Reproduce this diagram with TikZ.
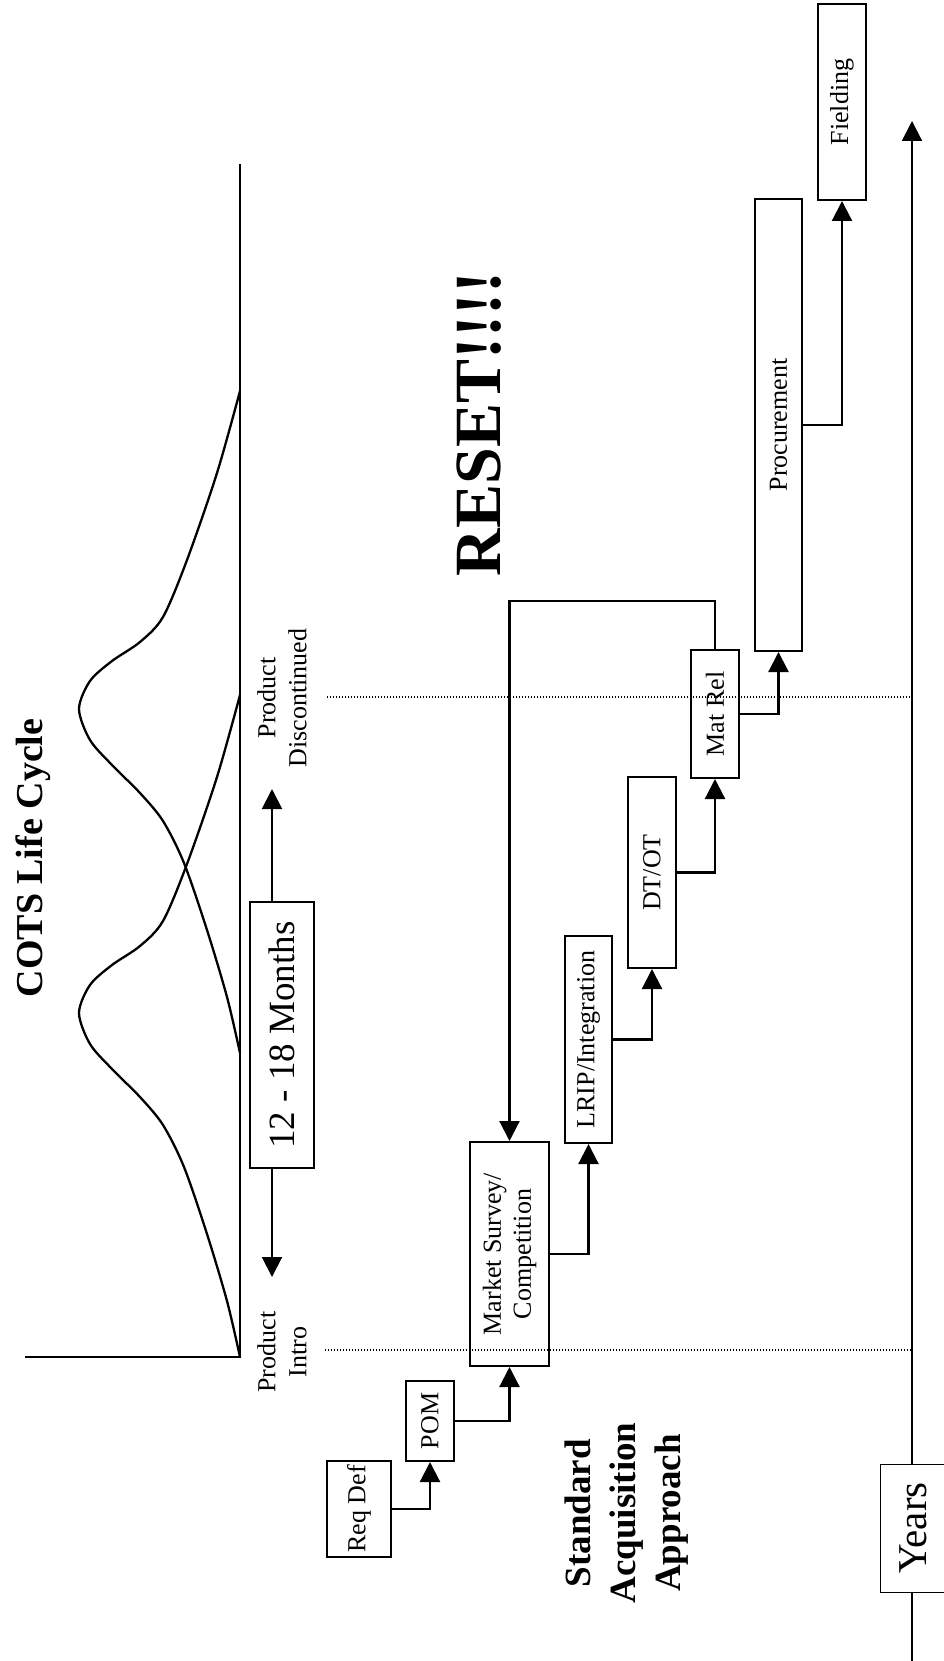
\documentclass[tikz,border=0pt]{standalone}
\usepackage{fontspec}
\setmainfont{Liberation Serif}
\usetikzlibrary{arrows.meta}

\begin{document}
\begin{tikzpicture}[x=1pt, y=-1pt,
    stage/.style={draw, line width=2pt, rotate=90, inner sep=2pt, align=center, font=\fontsize{26}{30}\selectfont},
    flow/.style={-{Triangle[width=20pt,length=20pt]}, line width=2.2pt},
    tag/.style={rotate=90, align=center, font=\fontsize{26}{31}\selectfont},
    guide/.style={line width=1.3pt, dash pattern=on 1.4pt off 1.6pt},
    curve/.style={line width=2.3pt}]
  \useasboundingbox (0,0) rectangle (944,1661);

  \coordinate (origin) at (240,1357);
  \draw[curve] (25,1357) -- (origin) -- (240,164);
  \foreach \s in {1357,1053}
    \draw[curve] plot[smooth, tension=0.5] coordinates {(240,\s) (227,\s-56) (207,\s-123)
      (184,\s-190) (163,\s-232) (140,\s-260) (112,\s-288) (90,\s-313) (79,\s-344)
      (90,\s-372) (112,\s-392) (140,\s-411) (163,\s-436) (187,\s-493) (217,\s-580) (240,\s-662)};
  \node[rotate=90, anchor=base, font=\fontsize{38}{42}\selectfont\bfseries] (cots) at (42,858) {COTS Life Cycle};

  \node[draw, rotate=90, line width=1.4pt, minimum width=266pt, minimum height=64pt, font=\fontsize{37}{40}\selectfont] (months) at (282,1035) {12 - 18 Months};
  \coordinate (disctip) at (272,789);
  \coordinate (introtip) at (272,1277);
  \draw[flow, line width=2pt] (months.east -| disctip) -- (disctip);
  \draw[flow, line width=2pt] (months.west -| introtip) -- (introtip);
  \node[tag] (disclabel) at (282,698) {Product\\Discontinued};
  \node[tag] (introlabel) at (282,1352) {Product\\Intro};

  \coordinate (taxis) at (912,1661);
  \coordinate (ttip) at (912,121);
  \coordinate (discmark) at (327,697);
  \coordinate (intromark) at (325,1350);
  \draw[guide] (discmark) -- (discmark -| ttip);
  \draw[guide] (intromark) -- (intromark -| ttip);
  \draw[flow, line width=2pt] (taxis) -- (ttip);
  \node[draw, fill=white, rotate=90, line width=1pt, minimum width=128pt, minimum height=66pt, font=\fontsize{41}{44}\selectfont] (years) at (913,1528) {Years};

  \node[rotate=90, anchor=base, font=\fontsize{66}{70}\selectfont\bfseries] (reset) at (500,424) {RESET!!!!};
  \node[rotate=90, align=center, font=\fontsize{37}{45}\selectfont\bfseries] (stdlabel) at (627,1513) {Standard\\Acquisition\\Approach};

  \node[stage, minimum width=96pt, minimum height=64pt] (reqdef) at (359,1509) {Req Def};
  \node[stage, minimum width=80pt, minimum height=48pt] (pom) at (430,1421) {POM};
  \node[stage, minimum width=224pt, minimum height=79pt] (market) at (509.5,1254) {Market Survey/\\Competition};
  \node[stage, minimum width=207pt, minimum height=47pt] (lrip) at (588.5,1039.5) {LRIP/Integration};
  \node[stage, minimum width=191pt, minimum height=48pt] (dtot) at (652,872.5) {DT/OT};
  \node[stage, minimum width=128pt, minimum height=48pt] (matrel) at (715,714) {Mat Rel};
  \node[stage, minimum width=452pt, minimum height=47pt] (procure) at (778.5,425) {Procurement};
  \node[stage, minimum width=196pt, minimum height=48pt] (fielding) at (842,102) {Fielding};

  \foreach \a/\b in {reqdef/pom, pom/market, market/lrip, lrip/dtot, dtot/matrel, matrel/procure, procure/fielding}
    \draw[flow] (\a.south) -| (\b.west);
  \draw[flow] (matrel.east) -- ++(0,-48) -| (market.east);
\end{tikzpicture}
\end{document}
